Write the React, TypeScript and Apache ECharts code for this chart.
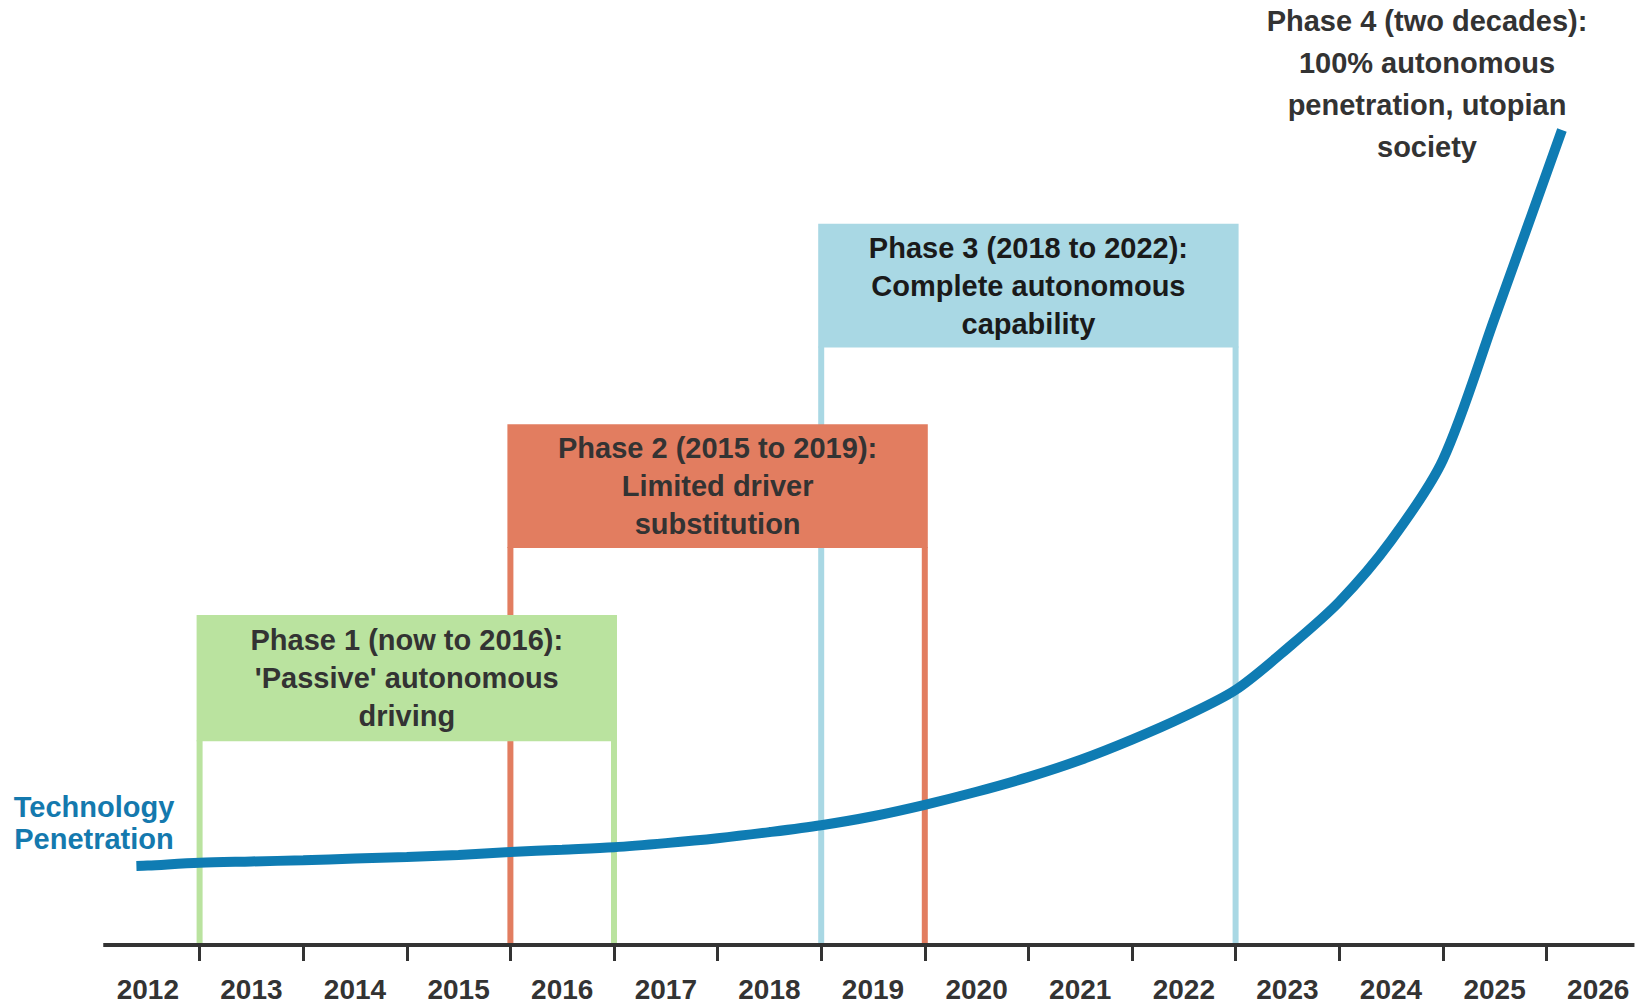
import React, { useEffect, useRef } from "react";
import * as echarts from "echarts";

// Category (tick label) years
const yearLabels = ["2012", "2013", "2014", "2015", "2016", "2017", "2018", "2019", "2020", "2021", "2022", "2023", "2024", "2025", "2026"];

// Technology penetration curve (x in years, y in % of the chart height)
const curveYears = [
  2011.89, 2012.0, 2012.5, 2013.0, 2013.5, 2014.0, 2014.5, 2015.0, 2015.5, 2016.0, 2016.5, 2017.0, 2017.5,
  2018.0, 2018.5, 2019.0, 2019.5, 2020.0, 2020.5, 2021.0, 2021.5, 2022.0, 2022.5, 2023.0, 2023.5, 2024.0,
  2024.5, 2025.0, 2025.65,
];
const curveValues = [
  9.7, 9.75, 10.1, 10.25, 10.4, 10.6, 10.8, 11.05, 11.4, 11.7, 12.0, 12.5, 13.1,
  13.85, 14.7, 15.8, 17.2, 18.8, 20.6, 22.7, 25.2, 28.0, 31.3, 36.4, 42.1, 49.6,
  59.5, 76.9, 100,
];

// Horizontal axis extent (years)
const axisExtent = [2011.57, 2026.35];

// Phases (drawn back to front)
const phaseLabels = [
  "Phase 3 (2018 to 2022):\nComplete autonomous\ncapability",
  "Phase 2 (2015 to 2019):\nLimited driver\nsubstitution",
  "Phase 1 (now to 2016):\n'Passive' autonomous\ndriving",
];
const phaseStart = [2018.5, 2015.5, 2012.5];
const phaseEnd = [2022.5, 2019.5, 2016.5];
const phaseHeaderTop = [88.5, 63.9, 40.5];
const phaseHeaderBottom = [73.3, 48.7, 25.0];

const phase4Label = "Phase 4 (two decades):\n100% autonomous\npenetration, utopian\nsociety";
const curveName = "Technology\nPenetration";

const phaseColors = ["#a9d8e4", "#e27d60", "#bae39f"];
const phaseTextColors = ["#1a1a1a", "#333333", "#333333"];
const FONT = "'Liberation Sans', Arial, Helvetica, sans-serif";

export default function App() {
  const ref = useRef<HTMLDivElement>(null);

  useEffect(() => {
    if (!ref.current) return;
    const chart = echarts.init(ref.current, undefined, { renderer: "svg" });

    const phaseData = phaseStart.map((s, i) => [s, phaseEnd[i], phaseHeaderTop[i], phaseHeaderBottom[i]]);
    const curveData = curveYears.map((x, i) => [x, curveValues[i]]);

    const option: any = {
      animation: false,
      backgroundColor: "#ffffff",
      textStyle: { fontFamily: FONT },
      grid: { left: 96, top: 130, width: 1554, height: 815, containLabel: false },
      xAxis: [
        {
          type: "category",
          data: yearLabels,
          boundaryGap: true,
          axisLine: { show: false },
          axisTick: {
            show: true,
            length: 16,
            interval: (index: number) => index !== 0,
            lineStyle: { color: "#333333", width: 3 },
          },
          axisLabel: {
            interval: 0,
            margin: 30,
            fontSize: 28,
            fontWeight: "bold",
            color: "#333333",
            fontFamily: FONT,
          },
          splitLine: { show: false },
        },
        {
          type: "value",
          min: 2011.5,
          max: 2026.5,
          show: false,
          splitLine: { show: false },
        },
      ],
      yAxis: { type: "value", min: 0, max: 100, show: false, splitLine: { show: false } },
      series: [
        {
          type: "custom",
          xAxisIndex: 1,
          yAxisIndex: 0,
          z: 1,
          clip: false,
          encode: { x: [0, 1], y: [2, 3] },
          data: phaseData,
          renderItem: (params: any, api: any) => {
            const i = params.dataIndex;
            const x0 = api.value(0);
            const x1 = api.value(1);
            const top = api.value(2);
            const bottom = api.value(3);
            const pTL = api.coord([x0, top]);
            const pBR = api.coord([x1, bottom]);
            const pBase = api.coord([x0, 0]);
            const half = 3;
            const left = pTL[0] - half;
            const right = pBR[0] + half;
            const color = phaseColors[i];
            const legTop = pBR[1] - 1;
            const legH = pBase[1] - 2 - legTop;
            return {
              type: "group",
              children: [
                { type: "rect", shape: { x: left, y: legTop, width: 2 * half, height: legH }, style: { fill: color } },
                { type: "rect", shape: { x: right - 2 * half, y: legTop, width: 2 * half, height: legH }, style: { fill: color } },
                { type: "rect", shape: { x: left, y: pTL[1], width: right - left, height: pBR[1] - pTL[1] }, style: { fill: color } },
                {
                  type: "text",
                  x: (left + right) / 2,
                  y: (pTL[1] + pBR[1]) / 2,
                  style: {
                    text: phaseLabels[i],
                    align: "center",
                    verticalAlign: "middle",
                    fontSize: 29,
                    fontWeight: "bold",
                    lineHeight: 38,
                    fontFamily: FONT,
                    fill: phaseTextColors[i],
                  },
                },
              ],
            };
          },
        },
        {
          type: "line",
          name: "Technology Penetration",
          xAxisIndex: 1,
          yAxisIndex: 0,
          z: 5,
          data: curveData,
          smooth: 0.3,
          symbol: "none",
          lineStyle: { color: "#0f7cb3", width: 10, cap: "butt" },
          markLine: {
            silent: true,
            symbol: "none",
            label: { show: false },
            lineStyle: { color: "#333333", width: 4, type: "solid" },
            data: [[{ coord: [axisExtent[0], 0] }, { coord: [axisExtent[1], 0] }]],
          },
        },
      ],
      graphic: [
        {
          type: "text",
          x: 1427,
          y: 84,
          style: {
            text: phase4Label,
            align: "center",
            verticalAlign: "middle",
            fontSize: 29,
            fontWeight: "bold",
            lineHeight: 42,
            fontFamily: FONT,
            fill: "#333333",
          },
        },
        {
          type: "text",
          x: 94,
          y: 823,
          style: {
            text: curveName,
            align: "center",
            verticalAlign: "middle",
            fontSize: 29,
            fontWeight: "bold",
            lineHeight: 32,
            fontFamily: FONT,
            fill: "#1479ae",
          },
        },
      ],
    };

    chart.setOption(option);
    return () => chart.dispose();
  }, []);

  return (
    <div
      style={{ position: "absolute", left: 0, top: 0, width: 1648, height: 1003, overflow: "hidden", background: "#fff" }}
    >
      <div ref={ref} style={{ width: 1700, height: 1003 }} />
    </div>
  );
}
